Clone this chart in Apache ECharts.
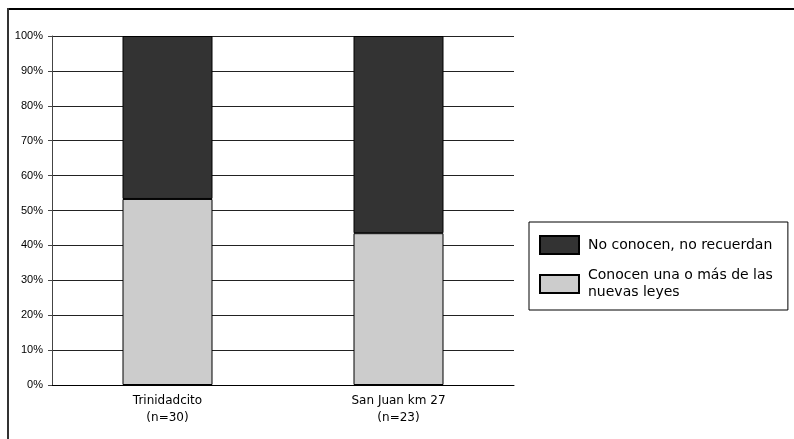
<!DOCTYPE html>
<html>
<head>
<meta charset="utf-8">
<script src="https://cdn.jsdelivr.net/npm/echarts@6/dist/echarts.min.js"></script>
<style>
  html, body { margin: 0; padding: 0; background: #fff; }
  #chart { width: 794px; height: 439px; }
</style>
</head>
<body>
<div id="chart"></div>
<script>
// Localities surveyed, with sample sizes
const categories = ['Trinidadcito\n(n=30)', 'San Juan km 27\n(n=23)'];
// Share of respondents (%) who know at least one of the new laws
const conocen = [53.3, 43.5];
// Share of respondents (%) who do not know / do not remember
const noConocen = [46.7, 56.5];
// Y axis ticks
const yTicks = [0, 10, 20, 30, 40, 50, 60, 70, 80, 90, 100];

const seriesNames = {
  no: 'No conocen, no recuerdan',
  si: 'Conocen una o más de las nuevas leyes'
};

const chart = echarts.init(document.getElementById('chart'), null, { renderer: 'canvas' });

chart.setOption({
  animation: false,
  backgroundColor: '#ffffff',
  grid: { left: 52, right: 280, top: 36, bottom: 54, containLabel: false },
  xAxis: {
    type: 'category',
    data: categories,
    axisLine: { show: true, lineStyle: { color: '#000', width: 1 } },
    axisTick: { show: false },
    axisLabel: {
      margin: 7,
      fontFamily: 'DejaVu Sans',
      fontSize: 12,
      lineHeight: 17,
      color: '#000'
    },
    splitLine: { show: false }
  },
  yAxis: {
    type: 'value',
    min: yTicks[0],
    max: yTicks[yTicks.length - 1],
    interval: 10,
    axisLine: { show: true, lineStyle: { color: '#444', width: 1 } },
    axisTick: { show: true, length: 4, inside: false, lineStyle: { color: '#444' } },
    axisLabel: {
      formatter: '{value}%',
      margin: 9,
      fontFamily: 'Liberation Sans',
      fontSize: 11,
      color: '#000'
    },
    splitLine: { show: true, lineStyle: { color: '#222', width: 1 } }
  },
  legend: {
    orient: 'vertical',
    left: 529,
    top: 222,
    data: [seriesNames.no, seriesNames.si],
    formatter: function (name) {
      return name === seriesNames.si ? 'Conocen una o más de las\nnuevas leyes' : name;
    },
    backgroundColor: '#fff',
    borderColor: '#000',
    borderWidth: 1,
    borderRadius: 0,
    padding: [13, 15, 9, 10],
    itemGap: 12,
    itemWidth: 39,
    itemHeight: 18,
    icon: 'rect',
    textStyle: {
      fontFamily: 'DejaVu Sans',
      fontSize: 14,
      lineHeight: 17,
      color: '#000',
      padding: [0, 0, 0, 4]
    }
  },
  series: [
    {
      name: seriesNames.si,
      type: 'bar',
      stack: 'total',
      barWidth: 90,
      data: conocen,
      itemStyle: { color: '#cccccc', borderColor: '#000', borderWidth: 1 }
    },
    {
      name: seriesNames.no,
      type: 'bar',
      stack: 'total',
      barWidth: 90,
      data: noConocen,
      itemStyle: { color: '#333333', borderColor: '#000', borderWidth: 1 }
    }
  ],
  graphic: [
    // frame lines along top and left edges
    { type: 'line', shape: { x1: 7, y1: 9, x2: 794, y2: 9 }, style: { stroke: '#000', lineWidth: 2 } },
    { type: 'line', shape: { x1: 8, y1: 8, x2: 8, y2: 439 }, style: { stroke: '#333', lineWidth: 2 } }
  ]
});
</script>
</body>
</html>
